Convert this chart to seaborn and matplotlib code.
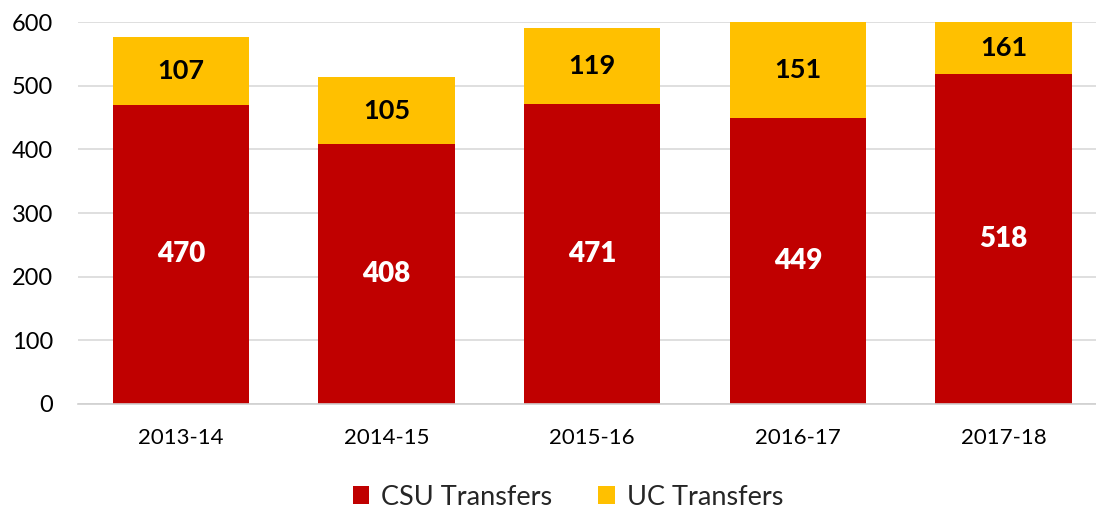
import numpy as np
import pandas as pd
import matplotlib.pyplot as plt
import seaborn as sns

# Data
years = ['2013-14', '2014-15', '2015-16', '2016-17', '2017-18']
csu_transfers = [470, 408, 471, 449, 518]
uc_transfers = [107, 105, 119, 151, 161]

RED = '#C00000'
GOLD = '#FFC000'
Y_MAX = 600

sns.set_theme(style='white')
plt.rcParams['font.family'] = ['Lato', 'DejaVu Sans']

df = pd.DataFrame({'year': years, 'csu': csu_transfers, 'uc': uc_transfers})

fig, ax = plt.subplots(figsize=(10.96, 5.11), dpi=100)

sns.barplot(data=df, x='year', y='csu', color=RED, width=0.662,
            saturation=1, ax=ax, label='CSU Transfers', linewidth=0, zorder=2)
sns.barplot(data=df, x='year', y='uc', color=GOLD, width=0.662,
            saturation=1, ax=ax, bottom=df['csu'], label='UC Transfers',
            linewidth=0, zorder=2)

ax.set_xlim(-0.5, 4.45)
ax.set_ylim(0, Y_MAX)
ax.set_yticks(range(0, 601, 100))
ax.yaxis.grid(True, color='#D9D9D9', linewidth=1.2, zorder=0)
ax.set_axisbelow(True)
for side in ['top', 'right', 'left']:
    ax.spines[side].set_visible(False)
ax.spines['bottom'].set_color('#D0D0D0')
ax.spines['bottom'].set_linewidth(1.2)
ax.tick_params(axis='x', length=0, labelsize=16, colors='black', pad=17)
ax.tick_params(axis='y', length=0, labelsize=17, colors='black', pad=18)
ax.set_xlabel('')
ax.set_ylabel('')

# value labels
for i, (c, u) in enumerate(zip(csu_transfers, uc_transfers)):
    ax.text(i, c / 2, str(c), ha='center', va='center', color='white',
            fontsize=20, fontweight='heavy')
    top = min(c + u, Y_MAX)
    ax.text(i, (c + top) / 2, str(u), ha='center', va='center', color='black',
            fontsize=19.5, fontweight='bold')

ax.legend(loc='center', bbox_to_anchor=(568 / 1096, 1 - 497 / 511), bbox_transform=fig.transFigure,
          ncol=2, frameon=False, fontsize=19.5, handlelength=0.6, handleheight=0.6,
          columnspacing=1.7, handletextpad=0.45, borderaxespad=0)

fig.subplots_adjust(left=78 / 1096, right=1.0, top=1 - 22 / 511, bottom=1 - 404 / 511)
fig.savefig('out.png', dpi=100)
